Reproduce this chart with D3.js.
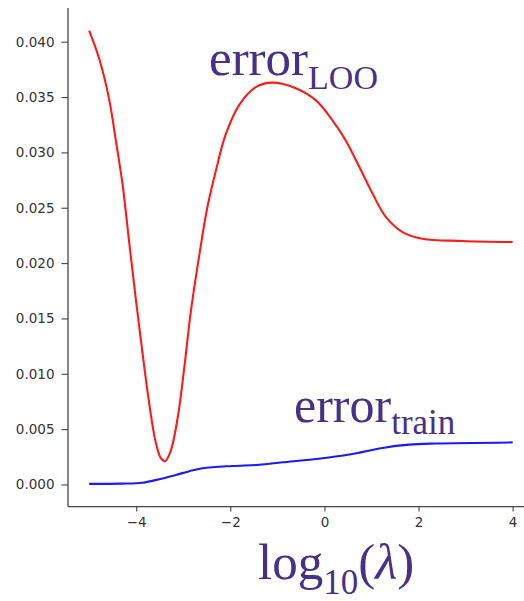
<!DOCTYPE html>
<html><head><meta charset="utf-8">
<script src="https://cdn.jsdelivr.net/npm/d3@7"></script>
<style>body{margin:0;background:#fff;overflow:hidden}</style>
</head><body>
<script>
const looX = [-5.00,-4.79,-4.58,-4.43,-4.29,-4.15,-4.01,-3.87,-3.73,-3.59,-3.48,-3.39,-3.27,-3.12,-2.98,-2.84,-2.66,-2.49,-2.31,-2.10,-1.81,-1.46,-1.11,-0.61,-0.18,0.17,0.45,0.74,1.02,1.30,1.66,2.08,2.93,4.00];
const looY = [0.0410,0.0385,0.0349,0.0310,0.0271,0.0219,0.0168,0.0120,0.0075,0.0039,0.0024,0.0021,0.0030,0.0060,0.0105,0.0156,0.0207,0.0250,0.0283,0.0316,0.0343,0.0359,0.0363,0.0358,0.0347,0.0329,0.0311,0.0287,0.0263,0.0242,0.0228,0.0222,0.0220,0.0219];
const trainX = [-5.00,-4.30,-3.87,-3.51,-3.16,-2.87,-2.59,-1.96,-1.39,-0.89,-0.18,0.53,1.23,1.80,2.37,4.00];
const trainY = [0.00005,0.00008,0.00016,0.00047,0.00086,0.0012,0.00146,0.00167,0.00178,0.0020,0.0023,0.0027,0.0033,0.0036,0.0037,0.0038];
const xTicks = [-4,-2,0,2,4];
const yTicks = [0,0.005,0.010,0.015,0.020,0.025,0.030,0.035,0.040];

const W=524,H=601;
const svg=d3.select("body").append("svg").attr("width",W).attr("height",H);
const x=d3.scaleLinear().domain([-5.45,4.45]).range([68,533.8]);
const y=d3.scaleLinear().domain([-0.002,0.043]).range([506.6,8.5]);

const axisColor="#444";
const ya=svg.append("g").attr("transform","translate(68,0)")
  .call(d3.axisLeft(y).tickValues(yTicks).tickFormat(d3.format(".3f")).tickSize(6.5).tickPadding(7));
ya.select(".domain").attr("d",`M0,${y.range()[1]-0.5}V${y.range()[0]}`);
const xa=svg.append("g").attr("transform","translate(0,506.6)")
  .call(d3.axisBottom(x).tickValues(xTicks).tickFormat(d=>d<0?"\u2212"+Math.abs(d):d).tickSize(5).tickPadding(6));
xa.select(".domain").attr("d",`M68,0H${W+2}`);
svg.selectAll(".domain").attr("stroke",axisColor).attr("stroke-width",1.3);
svg.selectAll(".tick line").attr("stroke",axisColor).attr("stroke-width",1.1);
svg.selectAll(".tick text").attr("fill","#333").style("font-family","DejaVu Sans").style("font-size","13.5px");

const line=d3.line().x(d=>x(d[0])).y(d=>y(d[1])).curve(d3.curveCatmullRom.alpha(0.5));
svg.append("path").datum(looX.map((v,i)=>[v,looY[i]]))
  .attr("d",line).attr("fill","none").attr("stroke","#ff1a1a").attr("stroke-width",2.1);
svg.append("path").datum(trainX.map((v,i)=>[v,trainY[i]]))
  .attr("d",line).attr("fill","none").attr("stroke","#1a1aff").attr("stroke-width",2.1);

const purple="#47308a";
const serif="'Liberation Serif','Times New Roman',serif";
const t1=svg.append("text").attr("x",209).attr("y",75).attr("fill",purple).style("font-family",serif).style("font-size","51px");
t1.append("tspan").text("error");
t1.append("tspan").attr("dy",14).style("font-size","34px").text("LOO");

const t2=svg.append("text").attr("x",294).attr("y",421.7).attr("fill",purple).style("font-family",serif).style("font-size","50px");
t2.append("tspan").text("error");
t2.append("tspan").attr("dy",12.5).style("font-size","35px").text("train");

const t3=svg.append("text").attr("x",258).attr("y",579).attr("fill",purple).style("font-family",serif).style("font-size","51px");
t3.append("tspan").text("log");
t3.append("tspan").attr("dy",15).style("font-size","35px").text("10");
t3.append("tspan").attr("dy",-15).text("(");
t3.append("tspan").style("font-style","italic").text("λ");
t3.append("tspan").text(")");
</script>
</body></html>
